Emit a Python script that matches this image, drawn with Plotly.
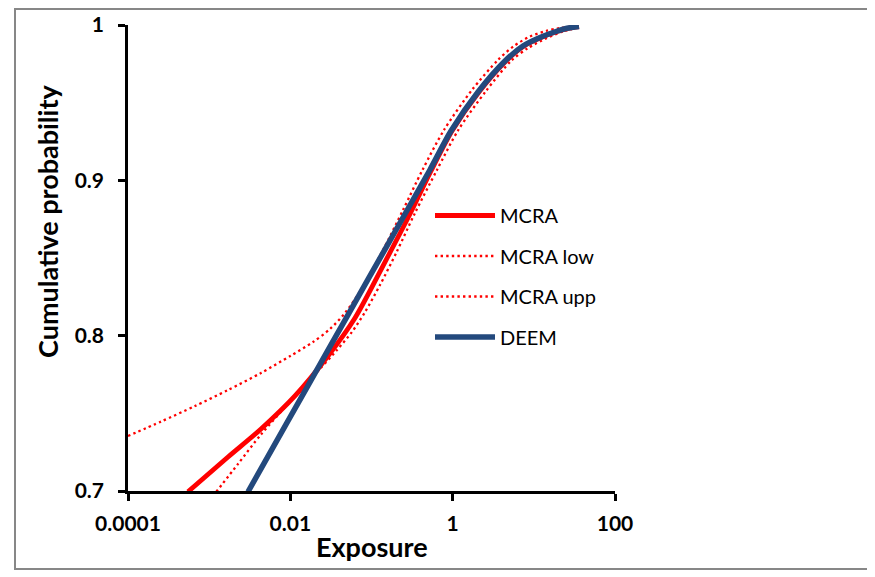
import plotly.graph_objects as go

# ---- data ----
mcra_x = [5.48e-4, 1.706e-3, 4.350e-3, 0.01141, 0.02911, 0.06259, 0.1466, 0.3065,
          0.5405, 0.9809, 2.110, 4.539, 7.560, 12.25, 19.28, 26.35, 36.0]
mcra_y = [0.6995, 0.7219, 0.7399, 0.7612, 0.7869, 0.8114, 0.8474, 0.8796,
          0.9060, 0.9318, 0.9569, 0.97682, 0.98648, 0.99195, 0.99582, 0.99788, 0.99903]

mcra_low_x = [1e-4, 2.550e-4, 6.689e-4, 1.706e-3, 4.350e-3, 0.01019, 0.01902, 0.03080,
              0.04714, 0.07421, 0.1385, 0.2443, 0.4248, 0.7816, 1.730, 3.616, 5.693,
              8.966, 14.11, 21.00, 29.51]
mcra_low_y = [0.7354, 0.7447, 0.7547, 0.7650, 0.7760, 0.7872, 0.7959, 0.8043,
              0.8146, 0.8294, 0.8551, 0.8809, 0.9067, 0.9324, 0.9582, 0.9775, 0.98648,
              0.99260, 0.99614, 0.99807, 0.99891]

mcra_upp_x = [1.224e-3, 2.266e-3, 4.350e-3, 9.358e-3, 0.02192, 0.03758, 0.05749, 0.08316,
              0.1272, 0.2043, 0.3435, 0.6409, 1.173, 2.573, 5.230, 8.472, 14.11, 22.87, 34.98]
mcra_upp_y = [0.6995, 0.7174, 0.7364, 0.7560, 0.7772, 0.7908, 0.8024, 0.8152,
              0.8326, 0.8539, 0.8790, 0.9067, 0.9324, 0.9575, 0.97682, 0.98519, 0.99131,
              0.99582, 0.99839]

deem_x = [3.009e-3, 9.358e-3, 0.02911, 0.09053, 0.2815, 0.5254, 0.9535, 2.051,
          4.412, 7.349, 11.91, 18.75, 25.61, 36.0]
deem_y = [0.6995, 0.7451, 0.7907, 0.8362, 0.8817, 0.9068, 0.9318, 0.9569,
          0.97682, 0.98648, 0.99195, 0.99582, 0.99788, 0.99903]

x_tickvals = [1e-4, 1e-2, 1, 100]
x_ticktext = ["0.0001", "0.01", "1", "100"]
y_tickvals = [0.7, 0.8, 0.9, 1.0]
y_ticktext = ["0.7", "0.8", "0.9", "1"]

RED = "#FF0000"
BLUE = "#23497D"
FONT = "Lato"
DOTS = "2.4px,3.2px"

fig = go.Figure()
fig.add_trace(go.Scatter(x=mcra_x, y=mcra_y, mode="lines", name="MCRA",
                         line=dict(color=RED, width=4.8, shape="spline", smoothing=0.8)))
fig.add_trace(go.Scatter(x=mcra_low_x, y=mcra_low_y, mode="lines", name="MCRA low",
                         line=dict(color=RED, width=2.3, dash=DOTS, shape="spline", smoothing=0.8)))
fig.add_trace(go.Scatter(x=mcra_upp_x, y=mcra_upp_y, mode="lines", name="MCRA upp",
                         line=dict(color=RED, width=2.3, dash=DOTS, shape="spline", smoothing=0.8)))
fig.add_trace(go.Scatter(x=deem_x, y=deem_y, mode="lines", name="DEEM",
                         line=dict(color=BLUE, width=5.5, shape="spline", smoothing=0.8)))

# outer chart frame
fig.add_shape(type="rect", xref="paper", yref="paper",
              x0=(15 - 128) / 487, x1=(885 - 128) / 487,
              y0=(491 - 569) / 466, y1=(491 - 9) / 466,
              line=dict(color="#878787", width=2), fillcolor="rgba(0,0,0,0)", layer="below")

# axis titles
fig.add_annotation(text="<b>Cumulative probability</b>", textangle=-90,
                   xref="paper", yref="paper", x=(47 - 128) / 487, y=(491 - 222) / 466,
                   showarrow=False, font=dict(family=FONT, size=27, color="black"),
                   xanchor="center", yanchor="middle")
fig.add_annotation(text="<b>Exposure</b>",
                   xref="paper", yref="paper", x=(372 - 128) / 487, y=(491 - 546) / 466,
                   showarrow=False, font=dict(family=FONT, size=27, color="black"),
                   xanchor="center", yanchor="middle")

fig.update_xaxes(type="log", range=[-4, 2], tickvals=x_tickvals, ticktext=x_ticktext,
                 showgrid=False, zeroline=False, showline=True, linecolor="black", linewidth=2.5,
                 ticks="outside", ticklen=7, tickwidth=2.5, tickcolor="black",
                 ticklabelstandoff=5,
                 tickfont=dict(family=FONT, size=21, color="black", weight="bold"))
fig.update_yaxes(range=[0.7, 1.0], tickvals=y_tickvals, ticktext=y_ticktext,
                 showgrid=False, zeroline=False, showline=True, linecolor="black", linewidth=2.5,
                 ticks="outside", ticklen=7, tickwidth=2.5, tickcolor="black",
                 ticklabelstandoff=10,
                 tickfont=dict(family=FONT, size=21, color="black", weight="bold"))

# page body has an 8px margin, so the figure is drawn 8px smaller with margins shifted
fig.update_layout(
    width=867, height=569,
    margin=dict(l=120, r=260, t=17, b=86, autoexpand=False),
    paper_bgcolor="white", plot_bgcolor="white",
    font=dict(family=FONT, color="black"),
    showlegend=True,
    legend=dict(x=(430 - 128) / 487, y=(491 - 196) / 466, xanchor="left", yanchor="top",
                bgcolor="rgba(0,0,0,0)", borderwidth=0,
                font=dict(family=FONT, size=20, color="black"),
                traceorder="grouped", tracegroupgap=11.5, itemwidth=60),
)
for i, tr in enumerate(fig.data):
    tr.legendgroup = f"g{i}"

fig.write_html("out.html")
